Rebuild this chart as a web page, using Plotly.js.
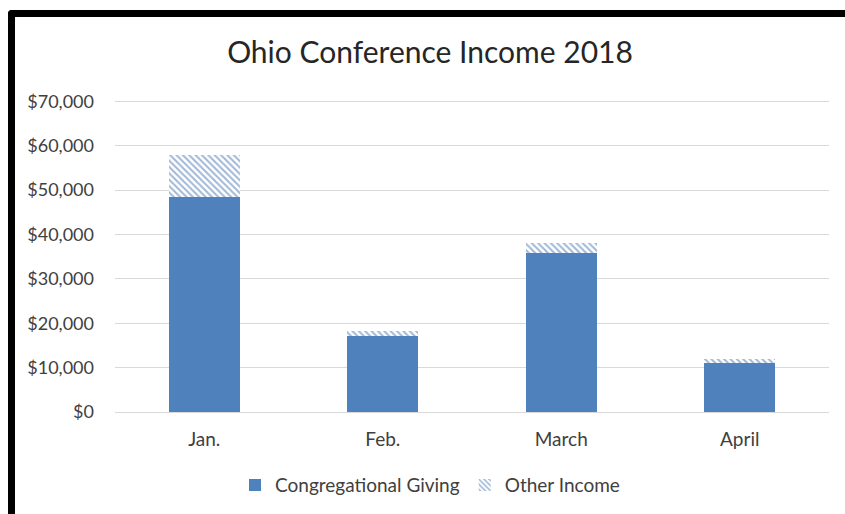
<!DOCTYPE html>
<html>
<head>
<meta charset="utf-8">
<script src="https://cdn.plot.ly/plotly-3.0.1.min.js"></script>
<style>
  html, body { margin: 0; padding: 0; background: #fff; width: 845px; height: 514px; overflow: hidden; }
  #frame { position: absolute; left: 8px; top: 10px; width: 837px; height: 504px;
           border-top: 7px solid #000; border-left: 7px solid #000; border-top-left-radius: 4px; box-sizing: border-box; }
  #chart { position: absolute; left: 15px; top: 17px; width: 830px; height: 497px; }
</style>
</head>
<body>
<div id="frame"></div>
<div id="chart"></div>
<script>
const categories = ["Jan.", "Feb.", "March", "April"];
const congregationalGiving = [48400, 17200, 35800, 11100];
const otherIncome = [9400, 1000, 2300, 900];
const yTickVals = [0, 10000, 20000, 30000, 40000, 50000, 60000, 70000];
const yTickText = ["$0", "$10,000", "$20,000", "$30,000", "$40,000", "$50,000", "$60,000", "$70,000"];

const blue = "#4F81BD";
const traces = [
  {
    type: "bar", name: "Congregational Giving", x: categories, y: congregationalGiving,
    marker: { color: blue, line: { width: 0 } }, width: 0.4
  },
  {
    type: "bar", name: "Other Income", x: categories, y: otherIncome,
    marker: { color: "#ffffff", line: { width: 0 },
      pattern: { shape: "\\", fgcolor: "#3F70AD", bgcolor: "#ffffff", size: 4.5, solidity: 0.45, fillmode: "overlay" } },
    width: 0.4
  }
];

const layout = {
  width: 830, height: 497,
  margin: { l: 100, r: 16, t: 83, b: 102, autoexpand: false },
  paper_bgcolor: "#ffffff", plot_bgcolor: "#ffffff",
  barmode: "stack",
  font: { family: "Lato, 'Open Sans', sans-serif", color: "#404040" },
  title: { text: "Ohio Conference Income 2018", x: 0.5, xref: "container", xanchor: "center",
           y: 0.928, yanchor: "middle",
           font: { size: 30, color: "#262626", family: "Lato, sans-serif" } },
  xaxis: { type: "category", showgrid: false, showline: false, zeroline: false, ticks: "",
           tickfont: { size: 19, color: "#404040" }, ticklabelstandoff: 14 },
  yaxis: { range: [0, 70300], tickvals: yTickVals, ticktext: yTickText, showgrid: true,
           gridcolor: "#d9d9d9", gridwidth: 1, zeroline: true, zerolinecolor: "#d9d9d9", zerolinewidth: 1,
           showline: false, ticks: "", tickfont: { size: 18, color: "#404040" }, ticklabelstandoff: 20 },
  showlegend: true,
  legend: { orientation: "h", xref: "container", x: 0.5, xanchor: "center",
            yref: "container", y: 0.058, yanchor: "middle",
            font: { size: 19, color: "#404040" }, traceorder: "normal", itemwidth: 30 }
};

Plotly.newPlot("chart", traces, layout, { displayModeBar: false, staticPlot: true });
</script>
</body>
</html>
